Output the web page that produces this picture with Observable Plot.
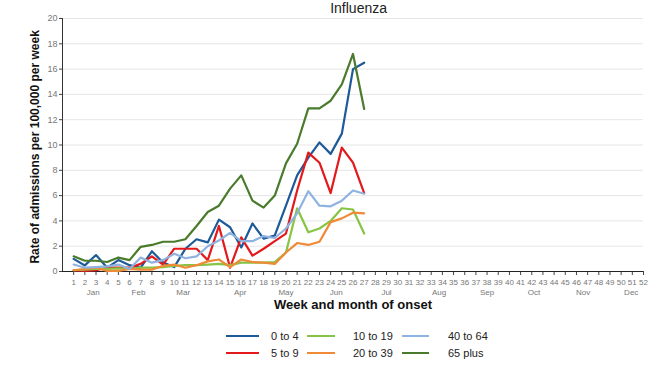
<!DOCTYPE html>
<html>
<head>
<meta charset="utf-8">
<script src="https://cdn.jsdelivr.net/npm/d3@7"></script>
<script src="https://cdn.jsdelivr.net/npm/@observablehq/plot@0.6"></script>
<style>
  html, body { margin: 0; padding: 0; background: #fff; }
  body { font-family: "Liberation Sans", Arial, sans-serif; }
  #wrap { position: relative; width: 650px; height: 366px; overflow: hidden; }
  #wrap svg { position: absolute; left: 0; top: 0; }
  .lg { position: absolute; font-size: 11px; color: #222; line-height: 12px; }
  .sw { position: absolute; height: 2px; }
</style>
</head>
<body>
<div id="wrap"></div>
<script>
// ---- data ----
const weeks = d3.range(1, 28);
const groups = ["0 to 4", "5 to 9", "10 to 19", "20 to 39", "40 to 64", "65 plus"];
const colors = ["#1d5a98", "#e3191c", "#86c445", "#ef8a36", "#8fb3e0", "#4a7b2c"];
const age0to4   = [1.0, 0.48, 1.3, 0.3, 0.9, 0.5, 0.3, 1.6, 0.7, 0.35, 1.8, 2.55, 2.3, 4.1, 3.5, 1.9, 3.8, 2.6, 2.85, 5.2, 7.6, 9.0, 10.2, 9.3, 10.9, 16.0, 16.5];
const age5to9   = [0.1, 0.05, 0.1, 0.3, 0.3, 0.3, 0.6, 1.2, 0.55, 1.8, 1.8, 1.8, 0.9, 3.6, 0.3, 2.7, 1.25, 1.8, 2.4, 3.0, 6.4, 9.4, 8.6, 6.2, 9.8, 8.6, 6.2];
const age10to19 = [0.1, 0.15, 0.2, 0.2, 0.25, 0.2, 0.3, 0.3, 0.35, 0.45, 0.5, 0.5, 0.55, 0.6, 0.5, 0.7, 0.7, 0.7, 0.75, 1.5, 5.0, 3.1, 3.4, 4.0, 5.0, 4.9, 3.0];
const age20to39 = [0.1, 0.2, 0.3, 0.05, 0.05, 0.2, 0.15, 0.15, 0.45, 0.55, 0.3, 0.5, 0.8, 0.95, 0.35, 0.95, 0.75, 0.7, 0.6, 1.5, 2.25, 2.1, 2.35, 3.9, 4.2, 4.65, 4.6];
const age40to64 = [0.55, 0.3, 0.35, 0.4, 0.55, 0.2, 1.1, 0.7, 0.9, 1.4, 1.05, 1.2, 2.0, 2.45, 3.05, 2.4, 2.4, 2.8, 2.65, 3.4, 4.6, 6.35, 5.2, 5.15, 5.6, 6.4, 6.15];
const age65plus = [1.2, 0.85, 0.85, 0.75, 1.1, 0.9, 1.95, 2.1, 2.35, 2.35, 2.55, 3.6, 4.7, 5.2, 6.55, 7.6, 5.6, 5.05, 6.0, 8.55, 10.1, 12.9, 12.9, 13.5, 14.8, 17.2, 12.85];
const weekTicks = d3.range(1, 53);
const yTicks = d3.range(0, 21, 2);
const monthLabels = ["Jan", "Feb", "Mar", "Apr", "May", "Jun", "Jul", "Aug", "Sep", "Oct", "Nov", "Dec"];
const monthWeeks = [2.75, 6.8, 10.8, 15.9, 20.0, 24.5, 29.0, 33.7, 38.0, 42.2, 46.6, 50.9];
const title = "Influenza";
const xTitle = "Week and month of onset";
const yTitle = "Rate of admissions per 100,000 per week";

const seriesValues = [age0to4, age5to9, age10to19, age20to39, age40to64, age65plus];
const rows = groups.flatMap((g, i) => weeks.map((w, j) => ({group: g, week: w, value: seriesValues[i][j]})));
const months = monthLabels.map((m, i) => ({label: m, week: monthWeeks[i]}));

const chart = Plot.plot({
  width: 650,
  height: 315,
  marginLeft: 62,
  marginRight: 7,
  marginTop: 18,
  marginBottom: 44,
  style: {fontFamily: "Liberation Sans, Arial, sans-serif", background: "transparent", overflow: "visible"},
  x: {domain: [0, 52]},
  y: {domain: [0, 20]},
  color: {domain: groups, range: colors},
  marks: [
    Plot.gridY(yTicks.filter(d => d > 0), {stroke: "#e6e6e6", strokeOpacity: 1}),
    Plot.axisY(yTicks, {tickSize: 3, tickPadding: 2, fontSize: 9, fill: "#777", stroke: "#444", label: null}),
    Plot.axisX(weekTicks, {tickSize: 4, tickPadding: 4, fontSize: 8, fill: "#777", stroke: "#444", label: null}),
    Plot.ruleX([0], {y1: 0, y2: 20, stroke: "#333"}),
    Plot.ruleY([0], {stroke: "#222", strokeWidth: 1.2}),
    Plot.line(rows, {x: "week", y: "value", z: "group", stroke: "group", strokeWidth: 2.2}),
    Plot.text(months, {x: "week", text: "label", frameAnchor: "bottom", dy: 23, lineAnchor: "bottom", fontSize: 8, fill: "#777"}),
    Plot.text([xTitle], {x: 26, text: d => d, frameAnchor: "bottom", dy: 37.5, lineAnchor: "bottom", fontSize: 13, fontWeight: "bold", fill: "#111"}),
    Plot.text([yTitle], {y: 9.85, text: d => d, frameAnchor: "left", dx: -27, rotate: -90, textAnchor: "middle", fontSize: 12, fontWeight: "bold", fill: "#111"}),
    Plot.text([title], {x: 26.5, text: d => d, frameAnchor: "top", dy: -5.5, lineAnchor: "bottom", fontSize: 14, fill: "#222"})
  ]
});

const wrap = document.getElementById("wrap");
wrap.appendChild(chart);

// legend
const legendCols = [
  {sx: 226, sw: 33, tx: 271},
  {sx: 307, sw: 28, tx: 353},
  {sx: 402, sw: 27, tx: 448}
];
const legendRowsY = [336, 353];
const legendOrder = [0, 2, 4, 1, 3, 5]; // row-major: 0-4, 10-19, 40-64 / 5-9, 20-39, 65 plus
legendOrder.forEach((gi, k) => {
  const r = Math.floor(k / 3), c = k % 3;
  const col = legendCols[c];
  const cy = legendRowsY[r];
  const sw = document.createElement("div");
  sw.className = "sw";
  sw.style.left = col.sx + "px";
  sw.style.width = col.sw + "px";
  sw.style.top = (cy - 1) + "px";
  sw.style.background = colors[gi];
  wrap.appendChild(sw);
  const t = document.createElement("div");
  t.className = "lg";
  t.style.left = col.tx + "px";
  t.style.top = (cy - 6) + "px";
  t.textContent = groups[gi];
  wrap.appendChild(t);
});
</script>
</body>
</html>
